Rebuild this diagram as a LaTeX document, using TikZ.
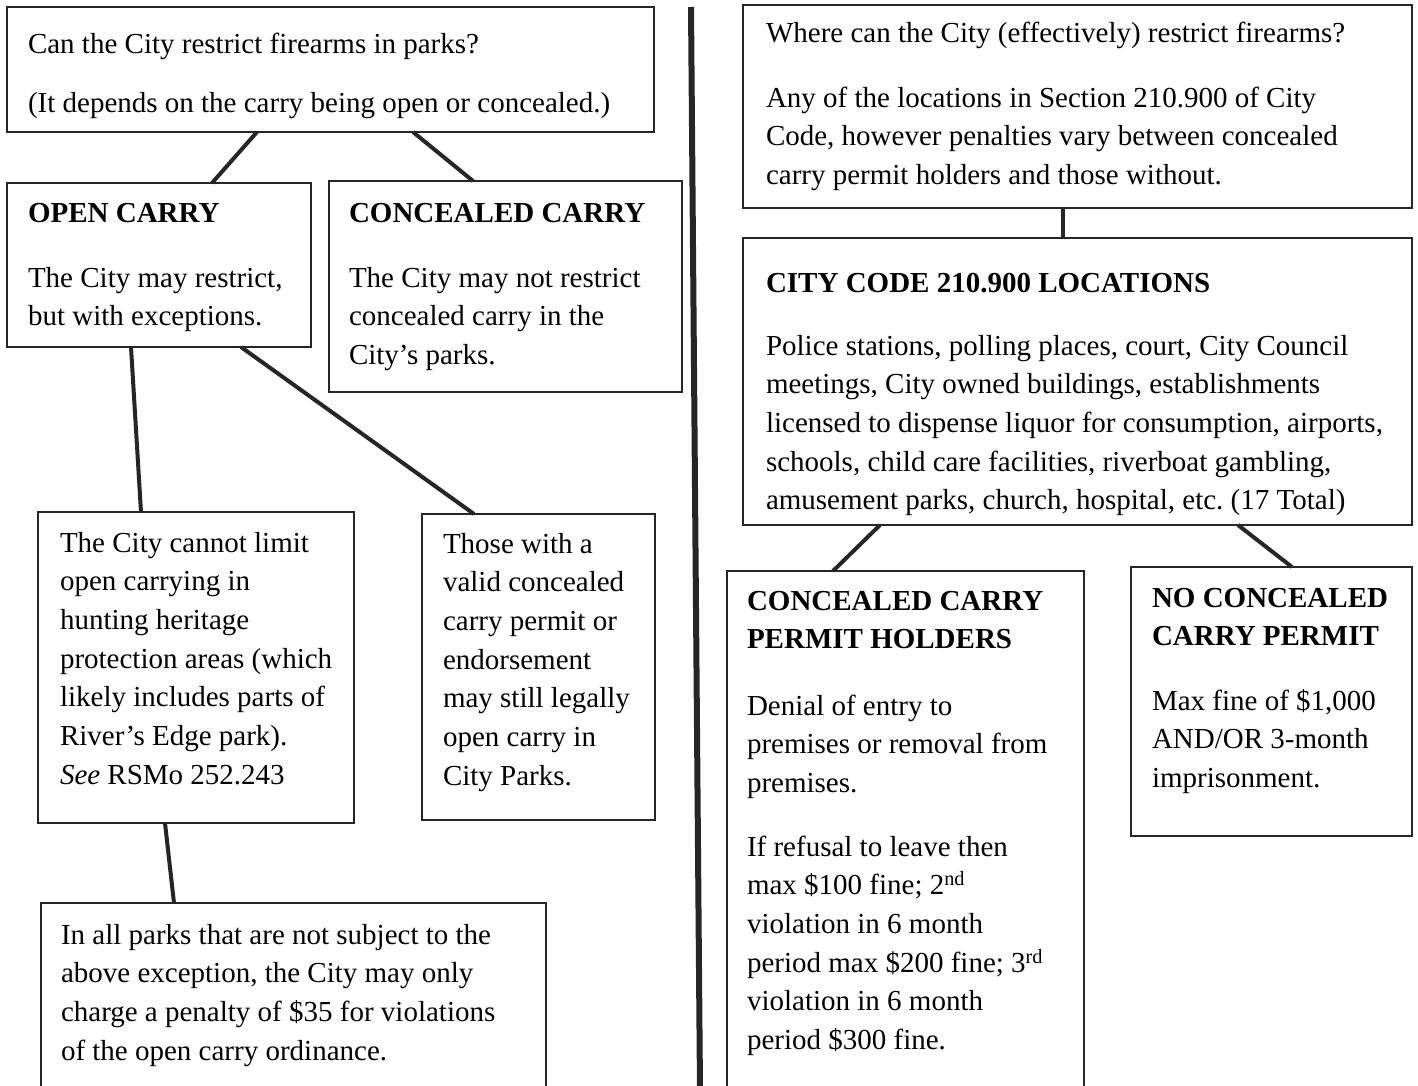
\documentclass[tikz,border=0pt]{standalone}
\usepackage{fontspec}
\setmainfont{Liberation Serif}
\frenchspacing
\begin{document}
\begin{tikzpicture}[x=1pt,y=-1pt,
  box/.style={draw=black!85, line width=1.8pt, inner sep=0pt, outer sep=0pt, anchor=north west},
  conn/.style={draw=black!85, line width=4pt},
  divider/.style={draw=black!85, line width=6pt},
  txt/.style={anchor=north west, inner sep=0pt, outer sep=0pt, align=left, font=\fontsize{29}{38.7}\selectfont}]
\clip (0,0) rectangle (1418,1085);
\fill[white] (0,0) rectangle (1418,1085);

% ---------- left side ----------
\node[box, minimum width=647pt, minimum height=125pt] (q1) at (7,7) {};
\node[txt] (q1a) at (28,26) {\strut Can the City restrict firearms in parks?};
\node[txt] (q1b) at (28,85) {\strut (It depends on the carry being open or concealed.)};

\node[box, minimum width=304pt, minimum height=164pt] (oc) at (7,183) {};
\node[txt] (oca) at (28,195) {\strut\textbf{OPEN CARRY}};
\node[txt] (ocb) at (28,260) {\strut The City may restrict,\\but with exceptions.};

\node[box, minimum width=353pt, minimum height=211pt] (cc) at (329,181) {};
\node[txt] (cca) at (349,195) {\strut\textbf{CONCEALED CARRY}};
\node[txt] (ccb) at (349,260) {\strut The City may not restrict\\concealed carry in the\\City’s parks.};

\node[box, minimum width=316pt, minimum height=311pt] (cl) at (38,512) {};
\node[txt] (cla) at (60,525) {\strut The City cannot limit\\open carrying in\\hunting heritage\\protection areas (which\\likely includes parts of\\River’s Edge park).\\\textit{See} RSMo 252.243};

\node[box, minimum width=233pt, minimum height=306pt] (tw) at (422,514) {};
\node[txt] (twa) at (443,526) {\strut Those with a\\valid concealed\\carry permit or\\endorsement\\may still legally\\open carry in\\City Parks.};

\node[box, minimum width=505pt, minimum height=200pt] (pk) at (41,903) {};
\node[txt] (pka) at (61,917) {\strut In all parks that are not subject to the\\above exception, the City may only\\charge a penalty of \$35 for violations\\of the open carry ordinance.};

\draw[conn] ([xshift=250pt]q1.south west) -- ([xshift=205pt]oc.north west);
\draw[conn] ([xshift=406pt]q1.south west) -- ([xshift=144pt]cc.north west);
\draw[conn] ([xshift=124pt]oc.south west) -- ([xshift=103pt]cl.north west);
\draw[conn] ([xshift=234pt]oc.south west) -- ([xshift=52pt]tw.north west);
\draw[conn] ([xshift=127pt]cl.south west) -- ([xshift=133pt]pk.north west);

% ---------- divider ----------
\coordinate (dtop) at (691,7);
\coordinate (dbot) at (700,1090);
\draw[divider] (dtop) -- (dbot);

% ---------- right side ----------
\node[box, minimum width=669pt, minimum height=203pt] (wh) at (743,5) {};
\node[txt] (wha) at (766,15) {\strut Where can the City (effectively) restrict firearms?};
\node[txt] (whb) at (766,80) {\strut Any of the locations in Section 210.900 of City\\Code, however penalties vary between concealed\\carry permit holders and those without.};

\node[box, minimum width=669pt, minimum height=287pt] (code) at (743,238) {};
\node[txt] (codea) at (766,265) {\strut\textbf{CITY CODE 210.900 LOCATIONS}};
\node[txt] (codeb) at (766,328) {\strut Police stations, polling places, court, City Council\\meetings, City owned buildings, establishments\\licensed to dispense liquor for consumption, airports,\\schools, child care facilities, riverboat gambling,\\amusement parks, church, hospital, etc. (17 Total)};

\node[box, minimum width=357pt, minimum height=530pt] (cch) at (727,571) {};
\node[txt] (ccha) at (747,583) {\strut\textbf{CONCEALED CARRY}\\\textbf{PERMIT HOLDERS}};
\node[txt] (cchb) at (747,688) {\strut Denial of entry to\\premises or removal from\\premises.};
\node[txt] (cchc) at (747,829) {\strut If refusal to leave then\\max \$100 fine; 2\textsuperscript{nd}\\violation in 6 month\\period max \$200 fine; 3\textsuperscript{rd}\\violation in 6 month\\period \$300 fine.};

\node[box, minimum width=281pt, minimum height=269pt] (ncc) at (1131,567) {};
\node[txt] (ncca) at (1152,580) {\strut\textbf{NO CONCEALED}\\\textbf{CARRY PERMIT}};
\node[txt] (nccb) at (1152,683) {\strut Max fine of \$1,000\\AND/OR 3-month\\imprisonment.};

\draw[conn] ([xshift=320pt]wh.south west) -- ([xshift=320pt]code.north west);
\draw[conn] ([xshift=137pt]code.south west) -- ([xshift=106pt]cch.north west);
\draw[conn] ([xshift=495pt]code.south west) -- ([xshift=161pt]ncc.north west);
\end{tikzpicture}
\end{document}
